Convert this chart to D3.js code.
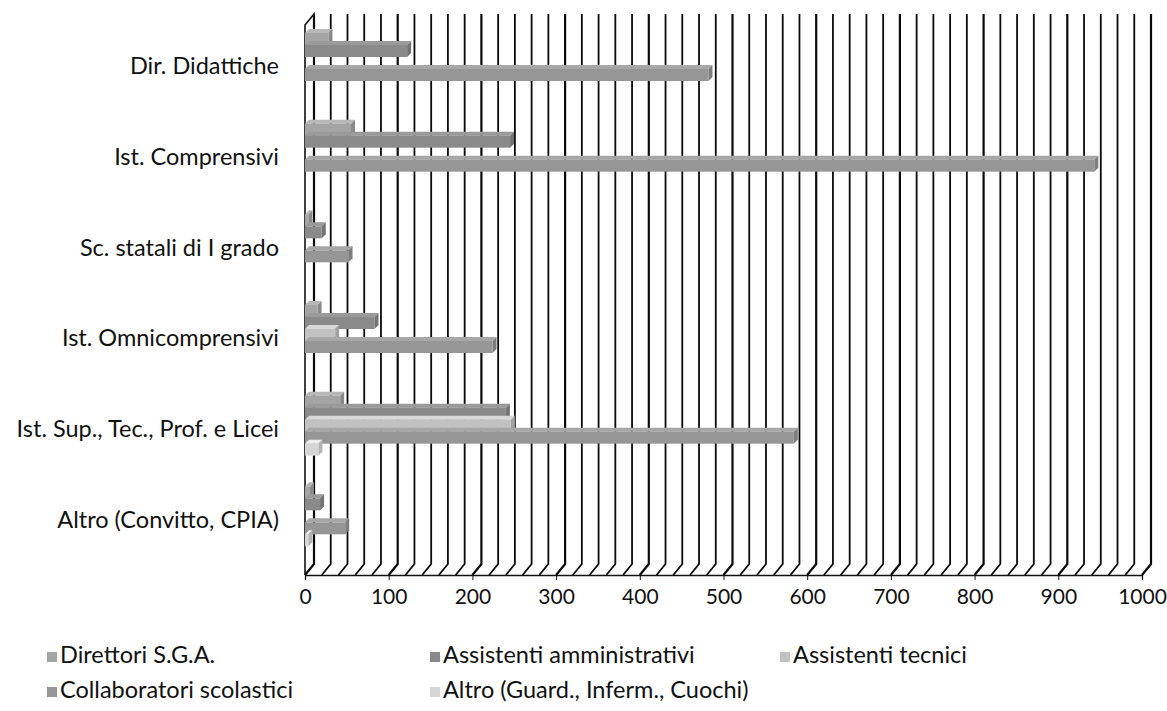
<!DOCTYPE html>
<html>
<head>
<meta charset="utf-8">
<script src="https://cdn.jsdelivr.net/npm/d3@7"></script>
<style>
  body { margin: 0; background: #fff; }
  text { font-family: Lato, "Open Sans", sans-serif; fill: #111; }
</style>
</head>
<body>
<div id="viz"></div>
<script>
var width = 1167;
var height = 711;

// categories (top to bottom) and series
var categories = ["Dir. Didattiche", "Ist. Comprensivi", "Sc. statali di I grado",
  "Ist. Omnicomprensivi", "Ist. Sup., Tec., Prof. e Licei", "Altro (Convitto, CPIA)"];
var seriesNames = ["Direttori S.G.A.", "Assistenti amministrativi", "Assistenti tecnici",
  "Collaboratori scolastici", "Altro (Guard., Inferm., Cuochi)"];

// values per series, same order as categories
var direttori = [28, 55, 4, 15, 42, 6];
var amministrativi = [122, 245, 20, 83, 240, 18];
var tecnici = [0, 0, 0, 36, 246, 0];
var collaboratori = [482, 943, 52, 224, 584, 48];
var altro = [0, 0, 0, 0, 16, 4];
var seriesValues = [direttori, amministrativi, tecnici, collaboratori, altro];

var tickValues = [0, 100, 200, 300, 400, 500, 600, 700, 800, 900, 1000];
var gridValues = d3.range(0, 1001, 20);

var seriesFill = ["#a4a4a4", "#8a8a8a", "#c2c2c2", "#969696", "#d6d6d6"];

var viz = d3.select("#viz")
  .append("svg")
  .attr("width", width)
  .attr("height", height);

var x = d3.scaleLinear().domain([0, 1000]).range([305, 1142]);
var y = d3.scaleBand().domain(categories).range([17, 561]);
var ySub = d3.scaleBand().domain(seriesNames).range([16, 76]);

// depth of the 3d box (floor / walls)
var depthX = 9, depthY = 11;
var floorY = 575;
var wallTop = 14;

// left side wall
viz.append("path")
  .attr("d", "M" + x(0) + "," + floorY + "L" + x(0) + "," + (wallTop + depthY) +
    "L" + (x(0) + depthX) + "," + wallTop + "L" + (x(0) + depthX) + "," + (floorY - depthY))
  .attr("fill", "none")
  .attr("stroke", "#111")
  .attr("stroke-width", 1.6);

// back wall gridlines bending onto the floor
viz.selectAll(".grid")
  .data(gridValues)
  .enter()
  .append("path")
  .attr("class", "grid")
  .attr("d", function(d) {
    var xb = x(d) + depthX;
    return "M" + xb + "," + wallTop + "L" + xb + "," + (floorY - depthY) +
      "L" + x(d) + "," + floorY;
  })
  .attr("fill", "none")
  .attr("stroke", "#0a0a0a")
  .attr("stroke-width", function(d, i) { return i % 5 == 0 ? 2.2 : 1.8; });

// bars as little 3d boxes
var bx = 4, by = 4;
var barData = [];
categories.forEach(function(c, ci) {
  seriesNames.forEach(function(s, si) {
    barData.push({cat: c, ser: s, si: si, value: seriesValues[si][ci]});
  });
});

var bars = viz.selectAll(".bar")
  .data(barData.filter(function(d) { return d.value > 0; }))
  .enter()
  .append("g")
  .attr("class", "bar");

bars.append("path")
  .attr("d", function(d) {
    var x0 = x(0), x1 = x(d.value), y0 = y(d.cat) + ySub(d.ser);
    return "M" + x0 + "," + y0 + "L" + (x0 + bx) + "," + (y0 - by) + "L" + (x1 + bx) + "," + (y0 - by) +
      "L" + x1 + "," + y0 + "Z";
  })
  .attr("fill", function(d) { return d3.color(seriesFill[d.si]).brighter(0.3); });

bars.append("path")
  .attr("d", function(d) {
    var x1 = x(d.value), y0 = y(d.cat) + ySub(d.ser), h = ySub.bandwidth();
    return "M" + x1 + "," + y0 + "L" + (x1 + bx) + "," + (y0 - by) + "L" + (x1 + bx) + "," + (y0 + h - by) +
      "L" + x1 + "," + (y0 + h) + "Z";
  })
  .attr("fill", function(d) { return d3.color(seriesFill[d.si]).darker(0.5); });

bars.append("rect")
  .attr("x", x(0))
  .attr("y", function(d) { return y(d.cat) + ySub(d.ser); })
  .attr("width", function(d) { return x(d.value) - x(0); })
  .attr("height", ySub.bandwidth())
  .attr("fill", function(d) { return seriesFill[d.si]; });

// x axis
var xAxis = viz.append("g")
  .attr("transform", "translate(0," + floorY + ")")
  .call(d3.axisBottom(x).tickValues(tickValues).tickFormat(d3.format("d")).tickSize(5).tickPadding(9));
xAxis.select(".domain").attr("stroke", "#111").attr("stroke-width", 1.3);
xAxis.selectAll(".tick line").attr("stroke", "#111");
xAxis.selectAll(".tick text")
  .style("font-family", "Lato, sans-serif")
  .style("font-size", "21px")
  .attr("fill", "#111");

// category labels
viz.selectAll(".cat")
  .data(categories)
  .enter()
  .append("text")
  .attr("class", "cat")
  .attr("x", 279)
  .attr("y", function(d) { return y(d) + y.bandwidth() / 2 + 6; })
  .attr("text-anchor", "end")
  .attr("dominant-baseline", "middle")
  .style("font-size", "23.5px")
  .text(function(d) { return d; });

// legend
var legendPos = [[47, 657], [430, 657], [780, 657], [47, 692], [430, 692]];
var legend = viz.selectAll(".legenditem")
  .data(seriesNames)
  .enter()
  .append("g")
  .attr("class", "legenditem")
  .attr("transform", function(d, i) { return "translate(" + legendPos[i][0] + "," + legendPos[i][1] + ")"; });

legend.append("rect")
  .attr("x", 0)
  .attr("y", -5)
  .attr("width", 10)
  .attr("height", 10)
  .attr("fill", function(d, i) { return seriesFill[i]; });

legend.append("text")
  .attr("x", 13)
  .attr("y", 0)
  .attr("dominant-baseline", "middle")
  .style("font-size", "23.5px")
  .text(function(d) { return d; });
</script>
</body>
</html>
